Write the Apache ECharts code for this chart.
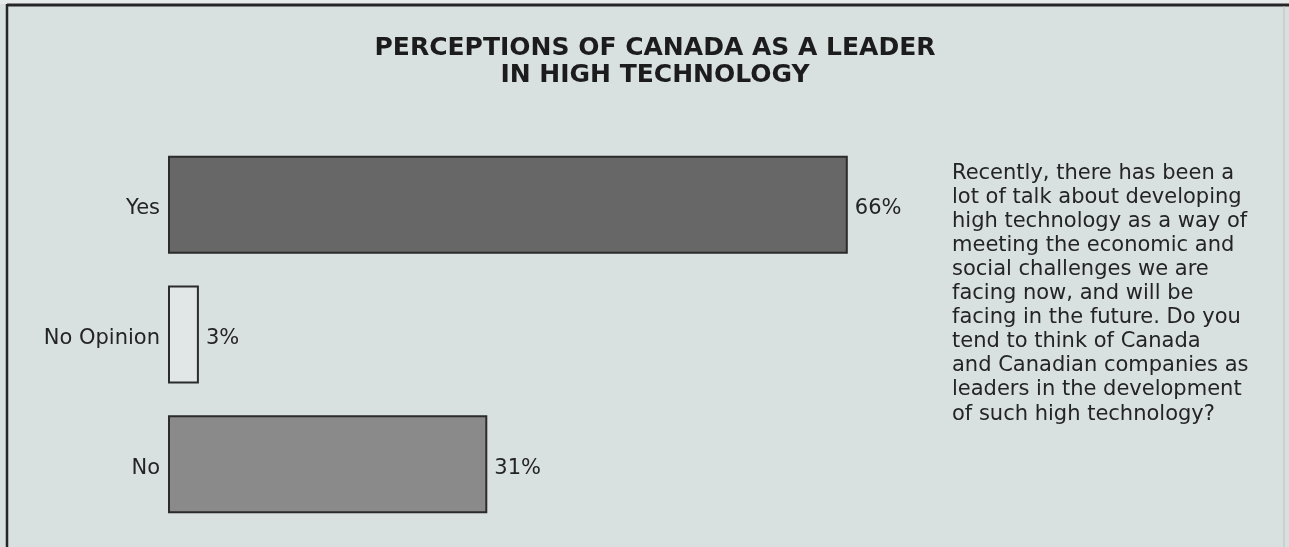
<!DOCTYPE html>
<html>
<head>
<meta charset="utf-8">
<title>Perceptions of Canada as a Leader in High Technology</title>
<script src="https://cdn.jsdelivr.net/npm/echarts@6/dist/echarts.min.js"></script>
<style>
  html, body { margin: 0; padding: 0; background: #d9e0e0; }
  #chart { width: 1289px; height: 547px; }
</style>
</head>
<body>
<div id="chart"></div>
<script>
// data
const categories = ["Yes", "No Opinion", "No"];
const percents = [66, 3, 31];
const questionLines = [
  "Recently, there has been a",
  "lot of talk about developing",
  "high technology as a way of",
  "meeting the economic and",
  "social challenges we are",
  "facing now, and will be",
  "facing in the future. Do you",
  "tend to think of Canada",
  "and Canadian companies as",
  "leaders in the development",
  "of such high technology?"
];

const chart = echarts.init(document.getElementById("chart"));
const ink = "#242424";
const font = "DejaVu Sans";

chart.setOption({
  backgroundColor: "#d9e0e0",
  animation: false,
  title: {
    text: "PERCEPTIONS OF CANADA AS A LEADER\nIN HIGH TECHNOLOGY",
    left: 650,
    top: 30,
    textAlign: "center",
    textStyle: {
      fontFamily: font,
      fontWeight: "bold",
      fontSize: 25,
      lineHeight: 27,
      color: "#1c1c1c"
    }
  },
  grid: {
    left: 168,
    width: 1030,
    top: 140,
    height: 389
  },
  xAxis: {
    type: "value",
    min: 0,
    max: 100,
    show: false
  },
  yAxis: {
    type: "category",
    data: categories,
    inverse: true,
    axisLine: { show: false },
    axisTick: { show: false },
    splitLine: { show: false },
    axisLabel: {
      margin: 8,
      // labels sit a little below the bar centre in the original
      verticalAlign: "top",
      lineHeight: 8,
      fontFamily: font,
      fontSize: 21,
      color: ink
    }
  },
  series: [
    {
      type: "bar",
      data: percents,
      barWidth: 98,
      itemStyle: {
        // yes dark, no opinion open, no lighter gray
        color: function(p) {
          return ["#676767", "#e1e6e6", "#8a8a8a"][p.dataIndex];
        },
        borderColor: "#2b2b2b",
        borderWidth: 2
      },
      label: {
        show: true,
        position: "right",
        distance: 7,
        offset: [0, 4],
        formatter: "{c}%",
        fontFamily: font,
        fontSize: 21,
        color: ink
      }
    }
  ],
  graphic: [
    // light strip above the frame
    { type: "rect", shape: { x: 0, y: 0, width: 1289, height: 4 }, style: { fill: "#e6eaea" }, silent: true },
    // frame
    { type: "line", shape: { x1: 7, y1: 5, x2: 1289, y2: 5 }, style: { stroke: "#262626", lineWidth: 3 }, silent: true },
    { type: "line", shape: { x1: 7, y1: 4, x2: 7, y2: 547 }, style: { stroke: "#262626", lineWidth: 2.5 }, silent: true },
    { type: "line", shape: { x1: 1284, y1: 6, x2: 1284, y2: 547 }, style: { stroke: "#b9c1c1", lineWidth: 1 }, silent: true },
    {
      type: "text",
      left: 952,
      top: 161,
      style: {
        text: questionLines.join("\n"),
        fontFamily: font,
        fontSize: 21,
        lineHeight: 24.1,
        fill: ink
      }
    }
  ]
});
</script>
</body>
</html>
